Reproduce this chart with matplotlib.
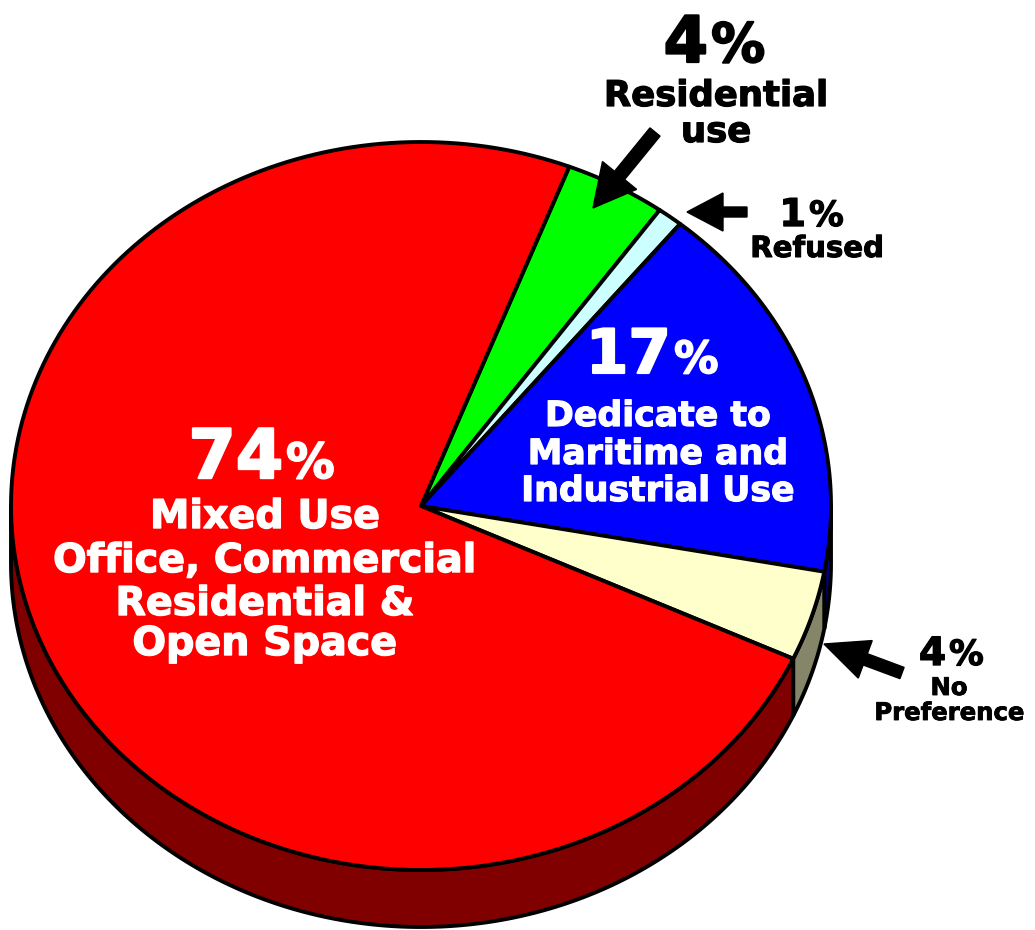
import numpy as np
import matplotlib
matplotlib.use("Agg")
from matplotlib import pyplot as plt
from matplotlib.patches import Polygon
import matplotlib.patheffects as pe

# survey answers, in drawing order (clockwise from the top)
categories = ["Residential use", "Refused", "Dedicate to Maritime and Industrial Use",
              "No Preference", "Mixed Use Office, Commercial Residential & Open Space"]
shares = [4, 1, 17, 4, 74]
top_colors = ["#00ff00", "#ccffff", "#0000ff", "#ffffcc", "#ff0000"]
side_colors = ["#008000", "#668080", "#000080", "#85856a", "#800000"]

# pie geometry in pixel units
cx, cy = 421, 506
rx, ry = 410, 364
depth = 57
start = 68.8

fig = plt.figure(figsize=(10.35, 9.3), dpi=100)
ax = fig.add_axes([0, 0, 1, 1])
ax.set_xlim(0, 1035)
ax.set_ylim(930, 0)
ax.axis("off")


def rim(t0, t1, dy=0, n=200):
    t = np.radians(np.linspace(t0, t1, n))
    return np.column_stack([cx + rx * np.cos(t), cy - ry * np.sin(t) + dy])


angles = start - np.concatenate([[0], np.cumsum(shares)]) * 3.6

for i in range(len(shares)):
    hi, lo = angles[i], angles[i + 1]
    # side wall: only the front half (180..360 deg) is seen
    for k in (-1, 0, 1):
        a = max(lo, 180 + 360 * k)
        b = min(hi, 360 + 360 * k)
        if b > a:
            pts = np.vstack([rim(a, b), rim(b, a, depth)])
            ax.add_patch(Polygon(pts, closed=True, fc=side_colors[i], ec="black",
                                 lw=2.8, joinstyle="round", zorder=1))
    # top face
    pts = np.vstack([[cx, cy], rim(hi, lo)])
    ax.add_patch(Polygon(pts, closed=True, fc=top_colors[i], ec="black",
                         lw=2.8, joinstyle="round", zorder=2))

font = ["DejaVu Sans"]


def put(x, y, s, size, color, ha):
    # a thin stroke in the text colour makes the bold face a bit heavier
    ax.text(x, y, s, ha=ha, va="baseline", fontsize=size, fontweight="bold",
            color=color, family=font, zorder=5,
            path_effects=[pe.withStroke(linewidth=size * 0.035, foreground=color)])


def pct(x, y, value, big, small, color):
    put(x, y, str(value), big, color, "right")
    put(x + 3, y, "%", small, color, "left")


def lines(x, ys, texts, size, color):
    for y, t in zip(ys, texts):
        put(x, y, t, size, color, "center")


# Mixed use
pct(283, 478, shares[4], 49, 35, "white")
lines(265, [528, 572, 615, 655],
      ["Mixed Use", "Office, Commercial", "Residential &", "Open Space"], 28.5, "white")

# Maritime
pct(671, 373, shares[2], 44, 32, "white")
lines(658, [426, 464, 501], ["Dedicate to", "Maritime and", "Industrial Use"], 25, "white")

# Residential
pct(708, 62, shares[0], 46, 39, "black")
lines(716, [106, 142], ["Residential", "use"], 25.5, "black")

# Refused
pct(806, 226, shares[1], 27.5, 25, "black")
lines(817, [257], ["Refused"], 21, "black")

# No preference
pct(946, 665, shares[3], 28, 25, "black")
lines(949, [695, 720], ["No", "Preference"], 17.5, "black")

# pointer arrows
arrows = [((655, 132), (593, 208), 13, 44, 42),
          ((747, 212), (687, 212), 10, 38, 36),
          ((902, 673), (824, 644), 12, 40, 44)]
for (x0, y0), (x1, y1), w, hw, hl in arrows:
    ax.arrow(x0, y0, x1 - x0, y1 - y0, width=w, head_width=hw, head_length=hl,
             length_includes_head=True, fc="black", ec="black", zorder=4)

fig.savefig("out.png", dpi=100, facecolor="white")
